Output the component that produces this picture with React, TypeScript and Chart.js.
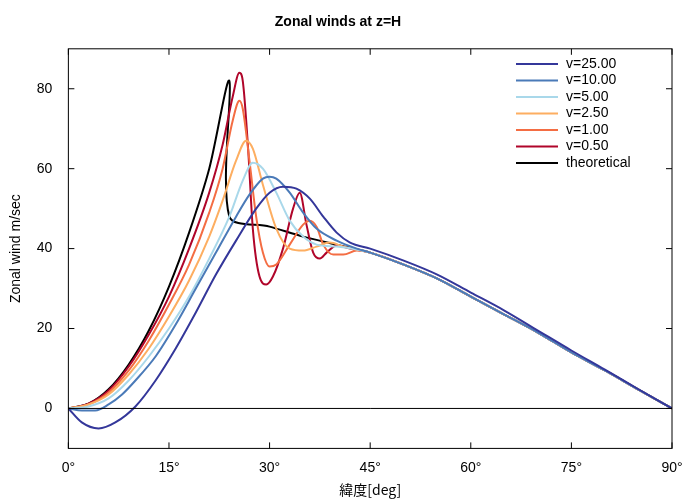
import React, { useEffect, useRef } from "react";
import { Chart, registerables } from "chart.js";
Chart.register(...registerables);

const tail = [[50,36],[55,32.5],[60,28],[65,23.5],[70,19],[75,14],[80,9.5],[85,4.7],[90,0]];
const v25 = [[0,0],[2,-3.5],[4.5,-5],[7,-3.5],[10,0.5],[13,7],[16,15],[19,24],[22,33.5],[25,42],[28,50],[30,54],[32,55.5],[34,55],[36,52.5],[38,48],[40,44],[42,41.5],[45,40],[50,37],[55,33.5],[60,29],[65,24.5],[70,19.5],[75,14.5],[80,9.7],[85,4.8],[90,0]];
const v10 = [[0,0],[2,-0.5],[4,-0.5],[6,1],[8,3.5],[10,7],[13,13],[16,21],[19,30],[22,39],[25,48],[27,53.5],[29,57.5],[30,58],[31,57.5],[33,54],[35,49],[37,45],[40,42],[43,40],[45,39],...tail];
const v5 = [[0,0],[3,0.5],[6,2.5],[9,7],[12,13],[15,20],[18,28],[21,37.5],[24,48],[26,57],[27.5,61.5],[29,60],[31,54],[33,47],[35,43],[37,41],[40,40.5],[43,39.8],[45,39],...tail];
const v2_5 = [[0,0],[3,1],[6,3.5],[9,8.5],[12,15],[15,23],[18,32],[21,43],[23,52],[25,62],[26.5,67],[27.5,65],[29,56],[31,45],[33,40],[35,39.5],[37,40.5],[39,41.5],[41,40.5],[43,39.8],[45,39],...tail];
const v1 = [[0,0],[3,1],[6,4],[9,9.5],[12,17],[15,26],[18,36],[21,49],[23,60],[24.5,72],[25.5,77],[26,75],[27,62],[28,48],[29,39],[30,35.5],[31,36],[33,41],[35,46],[36,47],[37,45.5],[38,41],[39.5,38.5],[41,38.5],[43,39.5],[45,39],...tail];
const v0_5 = [[0,0],[3,1.2],[6,4.5],[9,10.5],[12,18.5],[15,28],[18,40],[21,54],[23,66],[24.5,78],[25.5,84],[26,82],[26.8,65],[27.5,45],[28.5,33],[29.5,31],[30.5,33],[32,40],[33.5,50],[34.5,54],[35.5,46],[36.5,39],[37.5,37.5],[38.5,39],[40,40.8],[42,40],[45,39],...tail];
const theo = [[0,0],[3,1.2],[6,4.8],[9,11],[12,19.5],[15,30.5],[18,44],[21,60],[24,82],[24,48],[30,45.5],[35,43],[40,41],[45,39],...tail];

const labels = ["v=25.00","v=10.00","v=5.00","v=2.50","v=1.00","v=0.50","theoretical"];
const colors = ["#34379a","#4a7ab8","#a9d8ea","#fdae61","#f46d43","#b0052a","#000000"];
const series = [v25, v10, v5, v2_5, v1, v0_5, theo];
const xTicks = [0,15,30,45,60,75,90];
const yTicks = [0,20,40,60,80];

const framePlugin = {
  id: "frame",
  afterDraw(chart: any) {
    const { ctx, chartArea: a, scales } = chart;
    ctx.save();
    ctx.strokeStyle = "#000"; ctx.lineWidth = 1;
    ctx.strokeRect(a.left, a.top, a.right - a.left, a.bottom - a.top);
    const y0 = scales.y.getPixelForValue(0);
    ctx.beginPath(); ctx.moveTo(a.left, y0); ctx.lineTo(a.right, y0); ctx.stroke();
    xTicks.forEach((t) => { const x = scales.x.getPixelForValue(t);
      ctx.beginPath(); ctx.moveTo(x, a.bottom); ctx.lineTo(x, a.bottom - 6); ctx.moveTo(x, a.top); ctx.lineTo(x, a.top + 6); ctx.stroke(); });
    yTicks.forEach((t) => { const y = scales.y.getPixelForValue(t);
      ctx.beginPath(); ctx.moveTo(a.left, y); ctx.lineTo(a.left + 6, y); ctx.moveTo(a.right, y); ctx.lineTo(a.right - 6, y); ctx.stroke(); });
    ctx.font = "14px 'Liberation Sans', Arial, sans-serif";
    ctx.textBaseline = "middle"; ctx.fillStyle = "#000";
    labels.forEach((l, i) => {
      const y = 64 + i * 16.5;
      ctx.strokeStyle = colors[i]; ctx.lineWidth = 2;
      ctx.beginPath(); ctx.moveTo(516, y); ctx.lineTo(558, y); ctx.stroke();
      ctx.fillText(l, 566, y);
    });
    ctx.restore();
  },
};

export default function App() {
  const ref = useRef<HTMLCanvasElement>(null);
  useEffect(() => {
    document.body.style.margin = "0";
    const font = { family: "'Liberation Sans', Arial, sans-serif", size: 14 };
    const chart = new Chart(ref.current!, {
      type: "line",
      data: {
        datasets: series.map((s, i) => ({
          label: labels[i],
          data: s.map(([x, y]) => ({ x, y })),
          borderColor: colors[i],
          borderWidth: 2,
          pointRadius: 0,
          cubicInterpolationMode: i === 6 ? "default" : "monotone",
          tension: i === 6 ? 0.3 : 0,
        })),
      },
      options: {
        animation: false,
        responsive: false,
        layout: { padding: { left: 4, right: 28, top: 0, bottom: 0 } },
        plugins: {
          legend: { display: false },
          tooltip: { enabled: false },
          title: { display: true, text: "Zonal winds at z=H", color: "#000", font: { ...font, size: 14 }, padding: { top: 14, bottom: 18 } },
        },
        scales: {
          x: {
            type: "linear", min: 0, max: 90,
            afterBuildTicks: (ax: any) => { ax.ticks = xTicks.map((v) => ({ value: v })); },
            ticks: { color: "#000", font, callback: (v: any) => v + "°", maxRotation: 0 },
            grid: { display: false }, border: { display: false },
            title: { display: true, text: "緯度[deg]", color: "#000", font: { ...font, family: "'Noto Sans CJK JP', sans-serif" }, padding: 2 },
          },
          y: {
            min: -10, max: 90,
            afterBuildTicks: (ax: any) => { ax.ticks = yTicks.map((v) => ({ value: v })); },
            ticks: { color: "#000", font, padding: 8 },
            grid: { display: false }, border: { display: false },
            title: { display: true, text: "Zonal wind m/sec", color: "#000", font },
          },
        },
      },
      plugins: [framePlugin],
    } as any);
    return () => chart.destroy();
  }, []);
  return <canvas ref={ref} width={700} height={500} style={{ display: "block" }} />;
}
